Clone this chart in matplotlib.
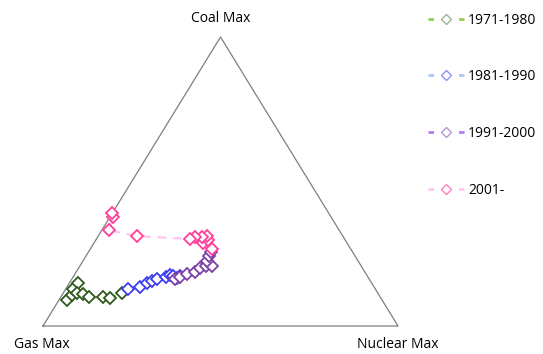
import matplotlib

matplotlib.use("Agg")

import matplotlib.pyplot as plt
import numpy as np
from matplotlib.lines import Line2D

# ternary shares (%): coal share and nuclear share, gas is the rest
labels = ["1971-1980", "1981-1990", "1991-2000", "2001-"]

coal_7180 = [9.0, 10.7, 12.8, 14.9, 11.4, 11.1, 10.0, 10.0, 9.7, 11.4]
nuc_7180 = [2.3, 2.8, 2.0, 2.4, 3.9, 5.7, 8.0, 11.9, 14.0, 16.5]

coal_8190 = [12.8, 13.5, 14.9, 15.6, 16.3, 17.0, 17.6, 17.3, 16.6, 17.3]
nuc_8190 = [17.5, 20.6, 21.9, 22.9, 24.0, 26.2, 27.0, 28.0, 29.5, 30.0]

coal_9100 = [16.3, 17.0, 18.0, 18.7, 20.1, 20.8, 20.8, 22.5, 24.2, 25.6]
nuc_9100 = [29.0, 30.1, 31.6, 33.5, 34.2, 35.5, 37.2, 35.0, 34.7, 34.5]

coal_01 = [26.6, 28.7, 29.8, 31.1, 30.8, 30.8, 30.1, 31.1, 33.2, 37.7, 39.1]
nuc_01 = [34.3, 30.7, 31.6, 30.7, 29.4, 27.4, 26.4, 10.9, 2.0, 0.9, 0.0]

coal = [coal_7180, coal_8190, coal_9100, coal_01]
nuclear = [nuc_7180, nuc_8190, nuc_9100, nuc_01]

marker_colors = ["#2f5a1e", "#3c3cf5", "#7a40a8", "#ff3f9a"]
line_colors = ["#92d050", "#a9c8f0", "#b57cf0", "#ffc4f2"]
legend_marker_colors = ["#9bb596", "#8f8ff5", "#b796d6", "#ff7fc4"]


def to_xy(c, n):
    c = np.asarray(c) / 100.0
    n = np.asarray(n) / 100.0
    return n + c / 2.0, c


fig = plt.figure(figsize=(5.43, 3.54), dpi=100)
ax = fig.add_axes([0.0792, 0.0791, 0.6538, 0.8164])
ax.set_xlim(0, 1)
ax.set_ylim(0, 1)
ax.axis("off")

# triangle frame: gas (0,0), nuclear (1,0), coal (0.5,1)
tri_x, tri_y = to_xy([0, 0, 100, 0], [0, 100, 0, 0])
ax.plot(tri_x, tri_y, color="#7f7f7f", lw=0.9, clip_on=False, zorder=1)

for c, n, mc, lc in zip(coal, nuclear, marker_colors, line_colors):
    x, y = to_xy(c, n)
    ax.plot(x, y, color=lc, lw=1.6, ls=(0, (4, 3)), zorder=2, clip_on=False)
    ax.plot(x, y, ls="none", marker="D", ms=6.5, mfc="white", mec=mc, mew=1.3,
            zorder=3, clip_on=False)

font = "Open Sans"
fig.text(221 / 543, 1 - 18 / 354, "Coal Max", ha="center", va="center", fontsize=10, family=font)
fig.text(42 / 543, 1 - 345 / 354, "Gas Max", ha="center", va="center", fontsize=10, family=font)
fig.text(398 / 543, 1 - 345 / 354, "Nuclear Max", ha="center", va="center", fontsize=10, family=font)

handles = [
    Line2D([], [], color=lc, lw=2, ls=(0, (2, 9)), marker="D", ms=5.5, mfc="white", mec=mc, mew=1.0)
    for lc, mc in zip(line_colors, legend_marker_colors)
]
fig.legend(handles, labels, loc="upper left", bbox_to_anchor=(0.765, 1.0), frameon=False,
           handlelength=2.6, handletextpad=0.3, labelspacing=3.0, numpoints=1,
           prop={"family": font, "size": 10})

fig.savefig("out.png", dpi=100)
